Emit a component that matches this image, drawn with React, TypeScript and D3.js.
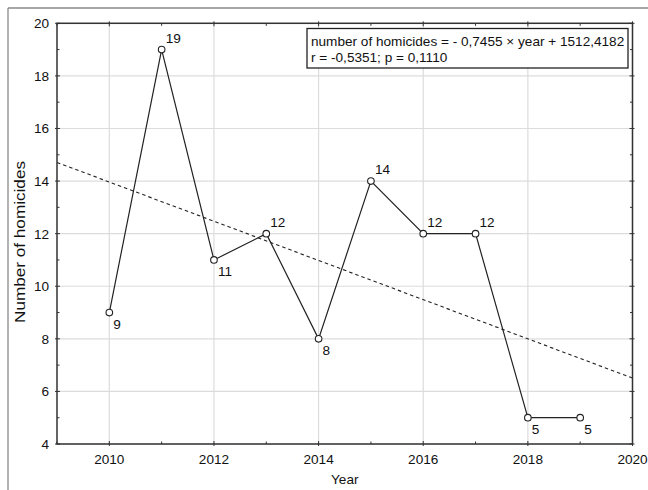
import React from "react";
import * as d3 from "d3";

const years: number[] = [2010, 2011, 2012, 2013, 2014, 2015, 2016, 2017, 2018, 2019];
const homicides: number[] = [9, 19, 11, 12, 8, 14, 12, 12, 5, 5];
const labelBelow: boolean[] = [true, false, true, false, true, false, false, false, true, true];
const xTicks: number[] = [2010, 2012, 2014, 2016, 2018, 2020];
const xMinor: number[] = [2009, 2011, 2013, 2015, 2017, 2019];
const yTicks: number[] = [4, 6, 8, 10, 12, 14, 16, 18, 20];
const yMinor: number[] = [5, 7, 9, 11, 13, 15, 17, 19];
const slope = -0.7455;
const intercept = 1512.4182;
const equationLines: string[] = [
  "number of homicides = - 0,7455 × year + 1512,4182",
  "r = -0,5351; p = 0,1110",
];

const W = 648;
const H = 490;
const left = 57;
const right = 632.5;
const top = 23.3;
const bottom = 444;
const font = "'Liberation Sans', Arial, sans-serif";
const fs = 13.6;

export default function App() {
  const x = d3.scaleLinear().domain([2009, 2020]).range([left, right]);
  const y = d3.scaleLinear().domain([4, 20]).range([bottom, top]);
  const pts = years.map((yr, i) => [yr, homicides[i]] as [number, number]);
  const line = d3
    .line<[number, number]>()
    .x((d) => x(d[0]))
    .y((d) => y(d[1]));
  const fit = (yr: number) => slope * yr + intercept;

  return (
    <svg
      width={W}
      height={H}
      style={{ position: "absolute", left: 0, top: 0, background: "#fff" }}
      fontFamily={font}
    >
      <rect x={0} y={0} width={W} height={H} fill="#fff" />
      {/* outer frame */}
      <line x1={8} y1={8} x2={W} y2={8} stroke="#8a8a8a" strokeWidth={1.3} />
      <line x1={8} y1={8} x2={8} y2={H} stroke="#8a8a8a" strokeWidth={1.3} />

      {/* grid */}
      {xTicks.map((t) => (
        <line key={"gx" + t} x1={x(t)} x2={x(t)} y1={top} y2={bottom} stroke="#dcdcdc" strokeWidth={1.2} />
      ))}
      {yTicks.map((t) => (
        <line key={"gy" + t} x1={left} x2={right} y1={y(t)} y2={y(t)} stroke="#dcdcdc" strokeWidth={1.2} />
      ))}

      {/* regression line */}
      <line
        x1={x(2009)}
        y1={y(fit(2009))}
        x2={x(2020)}
        y2={y(fit(2020))}
        stroke="#222"
        strokeWidth={1.1}
        strokeDasharray="3.5,3"
      />

      {/* data line */}
      <path d={line(pts) || ""} fill="none" stroke="#222" strokeWidth={1.2} />
      {pts.map((p, i) => (
        <circle key={"c" + i} cx={x(p[0])} cy={y(p[1])} r={3.3} fill="#fff" stroke="#222" strokeWidth={1.1} />
      ))}
      {pts.map((p, i) => (
        <text
          key={"l" + i}
          x={x(p[0]) + 4}
          y={y(p[1]) + (labelBelow[i] ? 16.5 : -7)}
          fontSize={fs}
          fill="#111"
        >
          {p[1]}
        </text>
      ))}

      {/* axes frame */}
      <rect x={left} y={top} width={right - left} height={bottom - top} fill="none" stroke="#333" strokeWidth={1.5} />

      {/* ticks */}
      {xTicks.map((t) => (
        <g key={"tx" + t}>
          <line x1={x(t)} x2={x(t)} y1={bottom - 3} y2={bottom + 2} stroke="#333" />
          <line x1={x(t)} x2={x(t)} y1={top - 2} y2={top + 3} stroke="#333" />
          <text x={x(t)} y={bottom + 20} textAnchor="middle" fontSize={fs} fill="#111">
            {t}
          </text>
        </g>
      ))}
      {xMinor.map((t) => (
        <g key={"mx" + t}>
          <line x1={x(t)} x2={x(t)} y1={bottom - 2.5} y2={bottom} stroke="#333" />
          <line x1={x(t)} x2={x(t)} y1={top} y2={top + 2.5} stroke="#333" />
        </g>
      ))}
      {yTicks.map((t) => (
        <g key={"ty" + t}>
          <line x1={left - 2} x2={left + 3} y1={y(t)} y2={y(t)} stroke="#333" />
          <line x1={right - 3} x2={right + 2} y1={y(t)} y2={y(t)} stroke="#333" />
          <text x={left - 8} y={y(t) + 5} textAnchor="end" fontSize={fs} fill="#111">
            {t}
          </text>
        </g>
      ))}
      {yMinor.map((t) => (
        <g key={"my" + t}>
          <line x1={left} x2={left + 2.5} y1={y(t)} y2={y(t)} stroke="#333" />
          <line x1={right - 2.5} x2={right} y1={y(t)} y2={y(t)} stroke="#333" />
        </g>
      ))}

      {/* axis titles */}
      <text x={(left + right) / 2} y={484} textAnchor="middle" fontSize={fs} fill="#111">
        Year
      </text>
      <text
        transform="translate(24.5, 242) rotate(-90)"
        textAnchor="middle"
        fontSize={14}
        textLength={162}
        lengthAdjust="spacingAndGlyphs"
        fill="#111"
      >
        Number of homicides
      </text>

      {/* equation box */}
      <rect x={307} y={28.5} width={321} height={39.5} fill="#fff" stroke="#222" strokeWidth={1.3} />
      {equationLines.map((s, i) => (
        <text key={"eq" + i} x={311} y={45.5 + i * 16} fontSize={fs} fill="#111">
          {s}
        </text>
      ))}
    </svg>
  );
}
